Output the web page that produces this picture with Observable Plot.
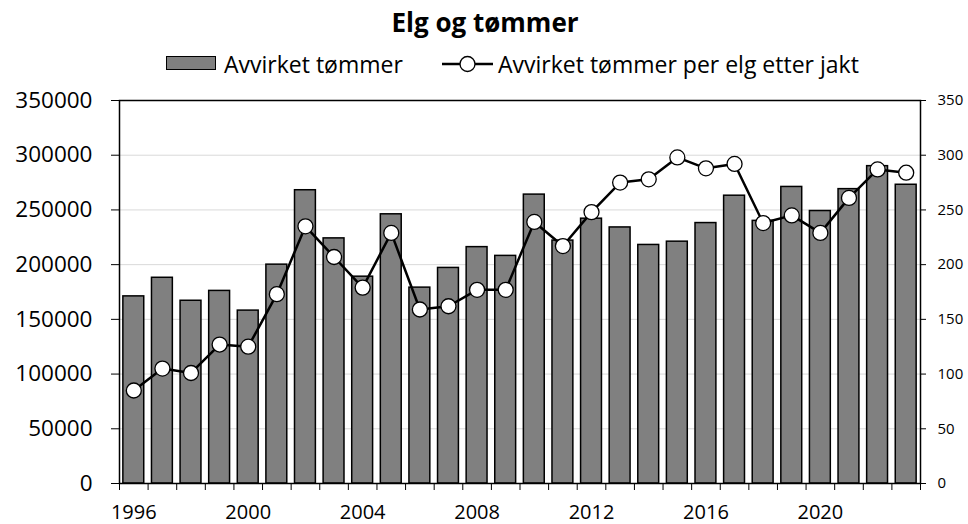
<!DOCTYPE html>
<html><head><meta charset="utf-8">
<script src="https://cdn.jsdelivr.net/npm/d3@7"></script>
<script src="https://cdn.jsdelivr.net/npm/@observablehq/plot@0.6"></script>
<style>
body{margin:0;background:#fff;font-family:"Open Sans",sans-serif;color:#000;}
#wrap{position:relative;width:968px;height:524px;overflow:hidden;}
#title{position:absolute;left:0;top:6px;width:970px;text-align:center;font-weight:bold;font-size:26px;line-height:32px;}
#legend{position:absolute;left:0;top:50px;width:968px;height:28px;font-size:23px;line-height:28px;white-space:nowrap;}
#legend > *{position:absolute;}
.sw{top:6px;width:48px;height:12px;background:#808080;border:1.5px solid #000;}
#chart{position:absolute;left:0;top:85px;}
#chart svg{overflow:visible;}
</style></head>
<body>
<div id="wrap">
  <div id="title">Elg og tømmer</div>
  <div id="legend">
    <span class="sw" style="left:166px"></span><span style="left:224px;top:0">Avvirket tømmer</span>
    <svg width="51" height="28" style="left:442px;top:0"><line x1="0" x2="51" y1="14" y2="14" stroke="#000" stroke-width="2.5"/><circle cx="25.5" cy="14" r="7.5" fill="#fff" stroke="#000" stroke-width="1.3"/></svg><span style="left:498px;top:0">Avvirket tømmer per elg etter jakt</span>
  </div>
  <div id="chart"></div>
</div>
<script>
const years = [1996,1997,1998,1999,2000,2001,2002,2003,2004,2005,2006,2007,2008,2009,2010,2011,2012,2013,2014,2015,2016,2017,2018,2019,2020,2021,2022,2023];
const timber = [171000,188000,167000,176000,158000,200000,268000,224000,189000,246000,179000,197000,216000,208000,264000,222000,242000,234000,218000,221000,238000,263000,240000,271000,249000,269000,290000,273000];
const perMoose = [85,105,101,127,125,173,235,207,179,229,159,162,177,177,239,217,248,275,278,298,288,292,238,245,229,261,287,284];
const leftTicks = [0,50000,100000,150000,200000,250000,300000,350000];
const rightTicks = [0,50,100,150,200,250,300,350];
const xLabels = [1996,2000,2004,2008,2012,2016,2020];

const data = years.map((y,i)=>({year:y, timber:timber[i], per:perMoose[i]}));
const boundaries = years.map(y=>y-0.5).concat([years[years.length-1]+0.5]);
const RATIO = 1000; // right axis units -> left axis units

const chart = Plot.plot({
  width: 968,
  height: 439,
  marginLeft: 119,
  marginRight: 48,
  marginTop: 15,
  marginBottom: 41,
  style: {fontFamily: '"Open Sans", sans-serif', color: "#000", background: "#fff", overflow: "visible"},
  x: {type: "linear", domain: [years[0]-0.5, years[years.length-1]+0.5]},
  y: {domain: [0, 350000]},
  marks: [
    Plot.gridY(leftTicks, {stroke: "#d9d9d9", strokeOpacity: 1, strokeWidth: 1}),
    Plot.rectY(data, {x1: d=>d.year-0.365, x2: d=>d.year+0.365, y: "timber", fill: "#808080", stroke: "#000", strokeWidth: 1.5}),
    Plot.line(data, {x: "year", y: d=>d.per*RATIO, stroke: "#000", strokeWidth: 2.5}),
    Plot.dot(data, {x: "year", y: d=>d.per*RATIO, r: 7.5, fill: "#fff", stroke: "#000", strokeWidth: 1.3}),
    Plot.axisY({anchor: "left", ticks: leftTicks, tickSize: 8, tickPadding: 19, fontSize: 22.5, tickFormat: d3.format("d"), label: null}),
    Plot.axisY({anchor: "right", ticks: rightTicks.map(v=>v*RATIO), tickSize: 5, tickPadding: 12, fontSize: 15, tickFormat: d=>String(d/RATIO), label: null}),
    Plot.axisX({ticks: boundaries, tickSize: 7, tickFormat: ()=>"", label: null}),
    Plot.axisX({ticks: xLabels, tickSize: 0, tickPadding: 21, fontSize: 20, tickFormat: d3.format("d"), label: null}),
    Plot.frame({stroke: "#000", strokeWidth: 1.5})
  ]
});
document.getElementById("chart").appendChild(chart);
</script>
</body></html>
